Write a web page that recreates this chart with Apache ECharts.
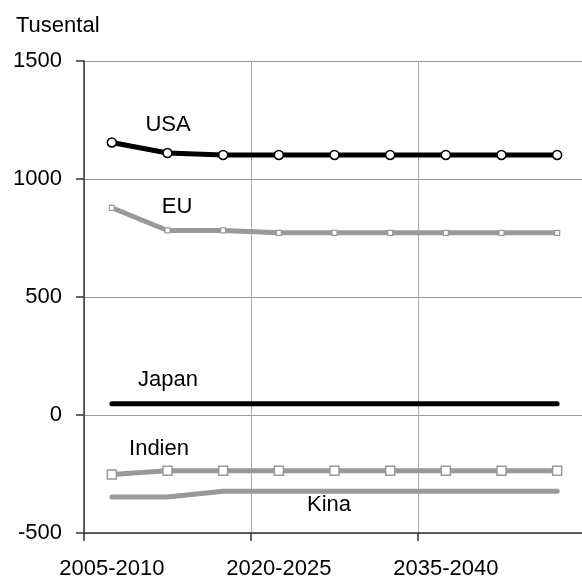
<!DOCTYPE html>
<html>
<head>
<meta charset="utf-8">
<script src="https://cdn.jsdelivr.net/npm/echarts@6/dist/echarts.min.js"></script>
<style>html,body{margin:0;padding:0;background:#fff}#c{width:582px;height:579px}</style>
</head>
<body>
<div id="c"></div>
<script>
var categories = ['2005-2010','2010-2015','2015-2020','2020-2025','2025-2030','2030-2035','2035-2040','2040-2045','2045-2050'];
var usa    = [1155, 1110, 1102, 1102, 1102, 1102, 1102, 1102, 1102];
var eu     = [878, 782, 782, 772, 772, 772, 772, 772, 772];
var japan  = [48, 48, 48, 48, 48, 48, 48, 48, 48];
var indien = [-252, -236, -236, -236, -236, -236, -236, -236, -236];
var kina   = [-347, -347, -323, -323, -323, -323, -323, -323, -323];
var yTicks = [-500, 0, 500, 1000, 1500];

var FONT = 'Liberation Sans';
var FS = 22;
var GRAY = '#999999';
function lbl(t, x, y) {
  return {type: 'text', x: x, y: y, style: {text: t, font: FS + 'px "Liberation Sans"', fill: '#000', align: 'center', verticalAlign: 'middle'}};
}
var chart = echarts.init(document.getElementById('c'));
chart.setOption({
  animation: false,
  backgroundColor: '#fff',
  textStyle: {fontFamily: FONT},
  title: {text: 'Tusental', left: 11, top: 10, textStyle: {fontFamily: FONT, fontSize: FS, fontWeight: 'normal', color: '#000'}},
  grid: {left: 84, top: 61, width: 501, height: 472, outerBoundsMode: 'none', containLabel: false},
  xAxis: {
    type: 'category', data: categories, boundaryGap: true,
    axisLine: {onZero: false, lineStyle: {color: '#333', width: 1.5}},
    axisTick: {show: true, interval: 2, length: 8, lineStyle: {color: '#333', width: 1.5}},
    axisLabel: {interval: 2, margin: 25, fontSize: FS, color: '#000', fontFamily: FONT},
    splitLine: {show: true, interval: 2, lineStyle: {color: '#aaa', width: 1}}
  },
  yAxis: {
    type: 'value', min: yTicks[0], max: yTicks[yTicks.length-1], interval: 500,
    axisLine: {show: true, lineStyle: {color: '#333', width: 1.5}},
    axisTick: {show: true, length: 8, lineStyle: {color: '#333', width: 1.5}},
    axisLabel: {margin: 22, fontSize: FS, color: '#000', fontFamily: FONT, formatter: function (v) { return String(v); }},
    splitLine: {show: true, lineStyle: {color: '#999', width: 1}}
  },
  series: [
    {name: 'USA', type: 'line', data: usa, symbol: 'circle', symbolSize: 9,
     lineStyle: {color: '#000', width: 5, cap: 'round'}, itemStyle: {color: '#fff', borderColor: '#000', borderWidth: 1.5}, z: 5},
    {name: 'EU', type: 'line', data: eu, symbol: 'rect', symbolSize: 5,
     lineStyle: {color: GRAY, width: 5, cap: 'round'}, itemStyle: {color: '#fff', borderColor: GRAY, borderWidth: 1.2}, z: 4},
    {name: 'Japan', type: 'line', data: japan, symbol: 'none',
     lineStyle: {color: '#000', width: 5, cap: 'round'}, z: 4},
    {name: 'Indien', type: 'line', data: indien, symbol: 'rect', symbolSize: 9,
     lineStyle: {color: GRAY, width: 5, cap: 'round'}, itemStyle: {color: '#fff', borderColor: GRAY, borderWidth: 1.5}, z: 4},
    {name: 'Kina', type: 'line', data: kina, symbol: 'none',
     lineStyle: {color: GRAY, width: 5, cap: 'round'}, z: 3}
  ],
  graphic: [
    lbl('USA', 168, 125),
    lbl('EU', 177, 207),
    lbl('Japan', 168, 380),
    lbl('Indien', 159, 449),
    lbl('Kina', 329, 505)
  ]
});
</script>
</body>
</html>
